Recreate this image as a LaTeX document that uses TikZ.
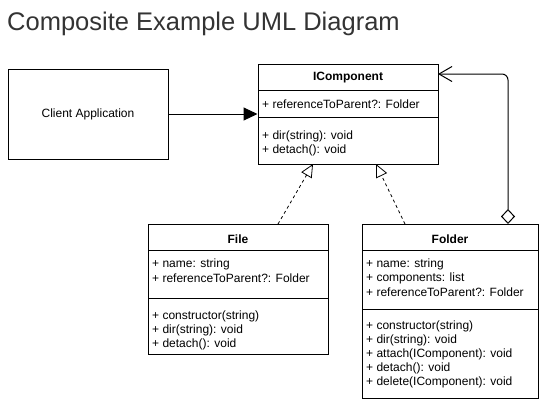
\documentclass[tikz,border=0pt]{standalone}
\usepackage{fontspec}
\setmainfont{Liberation Sans}
\usetikzlibrary{arrows.meta,calc}
\begin{document}
\begin{tikzpicture}[x=1pt,y=-1pt,
  box/.style={draw,line width=1pt,inner sep=0pt,fill=white},
  txt/.style={anchor=west,inner sep=0pt,font=\fontsize{12}{14}\selectfont},
  hdr/.style={inner sep=0pt,font=\fontsize{12}{14}\selectfont\bfseries},
  sep/.style={line width=1pt},
  conn/.style={line width=1pt},
  real/.style={line width=0.8pt,dash pattern=on 3pt off 3pt,-{Triangle[open,length=13pt,width=12pt]}}
]
\useasboundingbox (0,0) rectangle (551,408);
\node[anchor=west,inner sep=0pt,text=black!80,font=\fontsize{25.5}{30}\selectfont] (title) at (7,24) {Composite Example UML Diagram};

% Client
\node[box,minimum width=160pt,minimum height=90pt] (client) at (88,114) {};
\node[inner sep=0pt,font=\fontsize{12}{14}\selectfont] (clientt) at (88,114) {Client Application};

% IComponent
\node[box,minimum width=180pt,minimum height=100pt] (icomp) at (348,114) {};
\node[hdr] (icomph) at (348,78) {IComponent};
\draw[sep] (258,90) -- (438,90);
\draw[sep] (258,117) -- (438,117);
\node[txt] (ic1) at (262,104) {+ referenceToParent?: Folder};
\node[txt] (ic2) at (262,136) {+ dir(string): void};
\node[txt] (ic3) at (262,150) {+ detach(): void};

% File
\node[box,minimum width=180pt,minimum height=130pt] (file) at (238,289) {};
\node[hdr] (fileh) at (238,239) {File};
\draw[sep] (148,250) -- (328,250);
\draw[sep] (148,298) -- (328,298);
\node[txt] (f1) at (152,264) {+ name: string};
\node[txt] (f2) at (152,278) {+ referenceToParent?: Folder};
\node[txt] (f3) at (152,316) {+ constructor(string)};
\node[txt] (f4) at (152,330) {+ dir(string): void};
\node[txt] (f5) at (152,344) {+ detach(): void};

% Folder
\node[box,minimum width=176pt,minimum height=174pt] (folder) at (450,311) {};
\node[hdr] (folderh) at (450,239) {Folder};
\draw[sep] (362,250) -- (538,250);
\draw[sep] (362,309) -- (538,309);
\node[txt] (d1) at (366,264) {+ name: string};
\node[txt] (d2) at (366,278) {+ components: list};
\node[txt] (d3) at (366,292) {+ referenceToParent?: Folder};
\node[txt] (d4) at (366,326) {+ constructor(string)};
\node[txt] (d5) at (366,340) {+ dir(string): void};
\node[txt] (d6) at (366,354) {+ attach(IComponent): void};
\node[txt] (d7) at (366,368) {+ detach(): void};
\node[txt] (d8) at (366,382) {+ delete(IComponent): void};

% connectors
\coordinate (fileTop) at (278,224);
\coordinate (icBotL) at (313,164);
\coordinate (folderTop) at (405,224);
\coordinate (icBotR) at (376,164);
\coordinate (aggStart) at (508,224);
\coordinate (aggEnd) at (438,74);

\draw[conn,-{Triangle[length=14pt,width=13pt]}] (client.east) -- (icomp.west);
\draw[real] (fileTop) -- (icBotL);
\draw[real] (folderTop) -- (icBotR);
\draw[conn,rounded corners=6pt,{Diamond[open,length=15pt,width=14pt]}-{Straight Barb[length=13pt,width=15pt]}] (aggStart) -- (aggStart |- aggEnd) -- (aggEnd);
\end{tikzpicture}
\end{document}
